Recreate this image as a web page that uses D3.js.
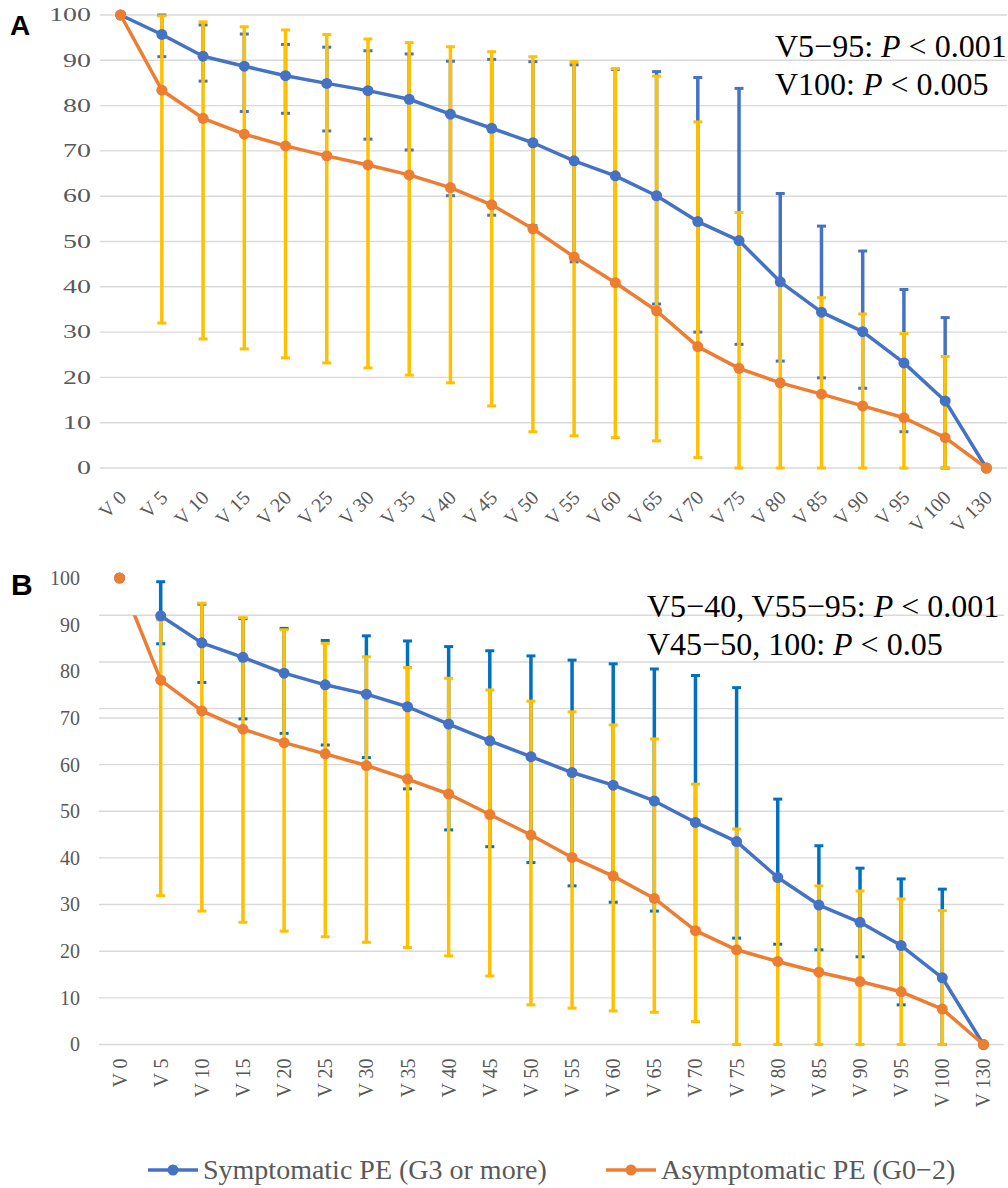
<!DOCTYPE html>
<html>
<head>
<meta charset="utf-8">
<script src="https://cdn.jsdelivr.net/npm/d3@7"></script>
<style>
  body { margin: 0; background: #fff; }
  text { font-family: "Liberation Serif", "Times New Roman", serif; }
  text.tag { font-family: "Liberation Sans", Arial, sans-serif; font-weight: bold; }
</style>
</head>
<body>
<div id="chart"></div>
<script>
// categories (dose levels)
const categories = ["V 0", "V 5", "V 10", "V 15", "V 20", "V 25", "V 30", "V 35", "V 40", "V 45", "V 50",
    "V 55", "V 60", "V 65", "V 70", "V 75", "V 80", "V 85", "V 90", "V 95", "V 100", "V 130"];
const yTicks = [0, 10, 20, 30, 40, 50, 60, 70, 80, 90, 100];

// panel A
const symA   = [100, 95.7, 90.9, 88.7, 86.6, 84.9, 83.3, 81.4, 78.1, 75.0, 71.8, 67.8, 64.5, 60.1, 54.4, 50.2, 41.1, 34.4, 30.1, 23.2, 14.8, 0];
const symAHi = [null, 100, 97.8, 95.8, 93.5, 92.9, 92.1, 91.4, 89.8, 90.2, 89.7, 89.0, 88.0, 87.5, 86.2, 83.8, 60.6, 53.4, 47.9, 39.4, 33.2, null];
const symALo = [null, 90.8, 85.4, 78.7, 78.3, 74.4, 72.6, 70.2, 60.1, 55.8, 53.5, 45.5, 41.0, 36.2, 30.0, 27.3, 23.6, 19.9, 17.6, 8.0, 0, null];
const asymA   = [100, 83.4, 77.2, 73.7, 71.1, 68.9, 66.9, 64.7, 61.9, 58.1, 52.8, 46.6, 40.9, 34.7, 26.8, 22.0, 18.8, 16.3, 13.7, 11.1, 6.7, 0];
const asymAHi = [null, 99.8, 98.5, 97.4, 96.7, 95.7, 94.7, 93.9, 93.0, 91.9, 90.8, 89.7, 88.2, 86.5, 76.4, 56.4, 40.5, 37.6, 34.0, 29.7, 24.6, null];
const asymALo = [null, 32.0, 28.5, 26.3, 24.3, 23.2, 22.1, 20.5, 18.8, 13.7, 8.0, 7.1, 6.7, 6.0, 2.3, 0, 0, 0, 0, 0, 0, null];
const gridA = [0, 10, 20, 30, 40, 50, 60, 70, 80, 90, 100];
const noteA = [["V5−95: ", "P", " < 0.001"], ["V100: ", "P", " < 0.005"]];

// panel B
const symB   = [100, 91.9, 86.1, 83.0, 79.6, 77.1, 75.1, 72.4, 68.7, 65.1, 61.7, 58.3, 55.6, 52.2, 47.6, 43.5, 35.8, 29.9, 26.2, 21.2, 14.3, 0];
const symBHi = [null, 99.2, 94.4, 91.3, 89.2, 86.6, 87.6, 86.5, 85.3, 84.4, 83.3, 82.4, 81.6, 80.5, 79.1, 76.5, 52.6, 42.6, 37.8, 35.5, 33.3, null];
const symBLo = [null, 85.9, 77.6, 69.8, 66.7, 64.2, 61.5, 54.8, 46.0, 42.4, 39.0, 34.0, 30.5, 28.6, 24.4, 22.8, 21.5, 20.3, 18.8, 8.5, 0, null];
const asymB   = [100, 78.1, 71.5, 67.6, 64.7, 62.3, 59.8, 56.9, 53.7, 49.3, 44.9, 40.1, 36.1, 31.3, 24.4, 20.3, 17.8, 15.5, 13.5, 11.3, 7.6, 0];
const asymBHi = [null, 91.0, 94.6, 91.5, 88.9, 86.0, 83.1, 80.8, 78.5, 76.0, 73.6, 71.3, 68.5, 65.5, 55.8, 46.2, 35.3, 34.0, 32.9, 31.2, 28.7, null];
const asymBLo = [null, 31.9, 28.6, 26.2, 24.3, 23.1, 21.9, 20.8, 19.0, 14.7, 8.5, 7.8, 7.2, 6.9, 4.9, 0, 0, 0, 0, 0, 0, null];
const gridB = [0, 10, 20, 30, 40, 50, 60, 70, 72, 82, 92];   // the upper grid is shifted in the source figure
const noteB = [["V5−40, V55−95: ", "P", " < 0.001"], ["V45−50, 100: ", "P", " < 0.05"]];

const legendLabels = ["Symptomatic PE (G3 or more)", "Asymptomatic PE (G0−2)"];

const blue = "#4472C4";
const orange = "#ED7D31";
const yellow = "#FFC000";
const gray = "#595959";
const serif = "'Liberation Serif', 'Times New Roman', serif";

const svg = d3.select("#chart")
    .append("svg")
    .attr("width", 1008)
    .attr("height", 1188);

function drawPanel(cfg) {
    const x = d3.scaleBand().domain(categories).range([cfg.left, cfg.right]).padding(0);
    const cx = d => x(d) + x.bandwidth() / 2;
    const y = d3.scaleLinear().domain([0, 100]).range([cfg.bottom, cfg.top]);
    const g = svg.append("g");

    g.selectAll(".grid")
        .data(cfg.grid)
        .join("line")
        .attr("x1", cfg.left).attr("x2", cfg.right)
        .attr("y1", d => y(d)).attr("y2", d => y(d))
        .attr("stroke", "#d9d9d9")
        .attr("stroke-width", 1.4);

    // y axis labels
    const yAxis = g.append("g")
        .attr("transform", `translate(${cfg.yLabelX},0)`)
        .call(d3.axisLeft(y).tickValues(yTicks).tickSize(0).tickPadding(0));
    yAxis.select(".domain").remove();
    yAxis.selectAll("text")
        .attr("x", 0)
        .style("font-family", serif)
        .style("font-size", cfg.yFont + "px")
        .attr("fill", gray)
        .attr("transform", `scale(${cfg.yStretch},1)`);

    // x axis labels
    const xAxis = g.append("g")
        .attr("transform", `translate(0,${cfg.bottom})`)
        .call(d3.axisBottom(x).tickSize(0));
    xAxis.select(".domain").remove();
    xAxis.selectAll("text")
        .attr("x", 0).attr("y", 0).attr("dy", 0)
        .attr("text-anchor", "end")
        .style("font-family", serif)
        .style("font-size", "20px")
        .attr("fill", gray)
        .attr("transform", cfg.xLabelTransform);

    // error bars: symptomatic first, asymptomatic (yellow) on top
    const errSets = [
        { hi: cfg.symHi, lo: cfg.symLo, color: cfg.symErrColor },
        { hi: cfg.asymHi, lo: cfg.asymLo, color: yellow }
    ];
    errSets.forEach(s => {
        const rows = categories.map((c, i) => ({ c, hi: s.hi[i], lo: s.lo[i] })).filter(d => d.hi !== null);
        const eg = g.append("g");
        eg.selectAll(".bar")
            .data(rows)
            .join("line")
            .attr("x1", d => cx(d.c)).attr("x2", d => cx(d.c))
            .attr("y1", d => y(d.hi)).attr("y2", d => y(d.lo))
            .attr("stroke", s.color)
            .attr("stroke-width", 3.5);
        ["hi", "lo"].forEach(k => {
            eg.selectAll(".cap-" + k)
                .data(rows)
                .join("line")
                .attr("x1", d => cx(d.c) - 4.5).attr("x2", d => cx(d.c) + 4.5)
                .attr("y1", d => y(d[k])).attr("y2", d => y(d[k]))
                .attr("stroke", s.color)
                .attr("stroke-width", 3);
        });
    });

    if (cfg.clipTop !== undefined) {
        svg.append("clipPath").attr("id", cfg.clipId)
            .append("rect")
            .attr("x", cfg.left).attr("y", y(cfg.clipTop))
            .attr("width", cfg.right - cfg.left)
            .attr("height", y(0) - y(cfg.clipTop) + 10);
    }

    const line = d3.line().x((d, i) => cx(categories[i])).y(d => y(d));
    [[cfg.sym, blue], [cfg.asym, orange]].forEach(([vals, color]) => {
        g.append("path")
            .datum(vals)
            .attr("d", line)
            .attr("fill", "none")
            .attr("stroke", color)
            .attr("stroke-width", 3.5)
            .attr("stroke-linejoin", "round")
            .attr("clip-path", cfg.clipTop !== undefined ? `url(#${cfg.clipId})` : null);
        g.append("g")
            .selectAll("circle")
            .data(vals)
            .join("circle")
            .attr("cx", (d, i) => cx(categories[i]))
            .attr("cy", d => y(d))
            .attr("r", 5.5)
            .attr("fill", color);
    });

    // significance note
    const note = g.append("text")
        .attr("x", cfg.noteX)
        .attr("y", cfg.noteY)
        .attr("font-size", 32)
        .attr("fill", "#000");
    cfg.note.forEach((parts, li) => {
        parts.forEach((p, pi) => {
            const t = note.append("tspan").text(p);
            if (pi === 0) t.attr("x", cfg.noteX).attr("dy", li === 0 ? 0 : 38);
            if (pi === 1) t.attr("font-style", "italic");
        });
    });

    g.append("text")
        .attr("class", "tag")
        .attr("x", cfg.tagX).attr("y", cfg.tagY)
        .attr("font-size", cfg.tagSize)
        .text(cfg.tag);
}

drawPanel({
    tag: "A", tagX: 10, tagY: 35, tagSize: 28,
    left: 100, right: 1007, top: 15, bottom: 468,
    grid: gridA,
    yLabelX: 91, yFont: 18, yStretch: 1.55,
    xLabelTransform: "translate(7,31) rotate(-45)",
    sym: symA, symHi: symAHi, symLo: symALo, symErrColor: blue,
    asym: asymA, asymHi: asymAHi, asymLo: asymALo,
    note: noteA, noteX: 775, noteY: 57
});

drawPanel({
    tag: "B", tagX: 11, tagY: 595, tagSize: 30,
    left: 99, right: 1004, top: 578, bottom: 1044.5,
    grid: gridB, clipTop: 92, clipId: "clipB",
    yLabelX: 80, yFont: 20, yStretch: 1,
    xLabelTransform: "translate(7,14) rotate(-90)",
    sym: symB, symHi: symBHi, symLo: symBLo, symErrColor: "#0070C0",
    asym: asymB, asymHi: asymBHi, asymLo: asymBLo,
    note: noteB, noteX: 647, noteY: 617
});

// legend
const legendX = [148, 606];
const legend = svg.append("g");
legendLabels.forEach((label, i) => {
    const color = i === 0 ? blue : orange;
    const lx = legendX[i];
    legend.append("line")
        .attr("x1", lx).attr("x2", lx + 50)
        .attr("y1", 1170).attr("y2", 1170)
        .attr("stroke", color).attr("stroke-width", 3.5);
    legend.append("circle")
        .attr("cx", lx + 25).attr("cy", 1170).attr("r", 5.5)
        .attr("fill", color);
    legend.append("text")
        .attr("x", lx + 55).attr("y", 1179)
        .attr("font-size", 28)
        .attr("fill", gray)
        .text(label);
});
</script>
</body>
</html>
